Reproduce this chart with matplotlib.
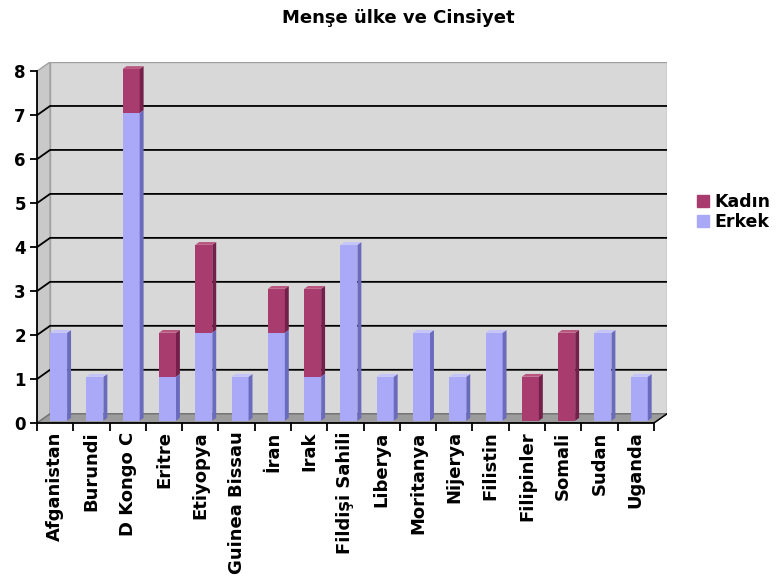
import matplotlib.pyplot as plt
from matplotlib.patches import Polygon, Patch
import numpy as np

countries = ['Afganistan', 'Burundi', 'D Kongo C', 'Eritre', 'Etiyopya', 'Guinea Bissau',
             'İran', 'Irak', 'Fildişi Sahili', 'Liberya', 'Moritanya', 'Nijerya',
             'Filistin', 'Filipinler', 'Somali', 'Sudan', 'Uganda']
erkek = [2, 1, 7, 1, 2, 1, 2, 1, 4, 1, 2, 1, 2, 0, 0, 2, 1]
kadin = [0, 0, 1, 1, 2, 0, 1, 2, 0, 0, 0, 0, 0, 1, 2, 0, 0]
y_max = 8

# pseudo-3D depth in data units
DX, DY = 0.36, 0.21
BAR_W = 0.47
BAR_OFF = 0.27
F0, F1 = 0.25, 0.55  # front/back depth fraction of the bars

erkek_c = ('#a9a9f7', '#6b6bbd', '#c4c4fa')
kadin_c = ('#a83c6f', '#73204a', '#b9567f')

fig = plt.figure(figsize=(7.76, 5.85), dpi=100)
ax = fig.add_axes([37 / 776, 162 / 585, 630 / 776, 361 / 585])
n = len(countries)
ax.set_xlim(0, n + DX)
ax.set_ylim(0, y_max + DY)

# walls and floor
ax.add_patch(Polygon([(DX, DY), (n + DX, DY), (n + DX, y_max + DY), (DX, y_max + DY)],
                     closed=True, fc='#d8d8d8', ec='#a0a0a0', lw=1, zorder=0))
ax.add_patch(Polygon([(0, 0), (DX, DY), (DX, y_max + DY), (0, y_max)],
                     closed=True, fc='#c9c9c9', ec='#a0a0a0', lw=1, zorder=0))
ax.add_patch(Polygon([(0, 0), (n, 0), (n + DX, DY), (DX, DY)],
                     closed=True, fc='#9c9c9c', ec='#707070', lw=1, zorder=1))
for v in range(1, y_max):
    ax.plot([0, DX, n + DX], [v, v + DY, v + DY], color='black', lw=1.3, zorder=1)
ax.plot([n, n + DX], [0, DY], color='black', lw=1, zorder=2)


def draw_stack(x0, bottom, height, colors):
    if height <= 0:
        return
    front, side, top = colors
    xl = x0 + F0 * DX
    yb = bottom + F0 * DY
    ax.bar(xl, height, width=BAR_W, bottom=yb, align='edge', color=front, zorder=3)
    ddx, ddy = (F1 - F0) * DX, (F1 - F0) * DY
    xr = xl + BAR_W
    ax.add_patch(Polygon([(xr, yb), (xr + ddx, yb + ddy), (xr + ddx, yb + height + ddy),
                          (xr, yb + height)], closed=True, fc=side, ec='none', zorder=3))
    ax.add_patch(Polygon([(xl, yb + height), (xr, yb + height), (xr + ddx, yb + height + ddy),
                          (xl + ddx, yb + height + ddy)], closed=True, fc=top, ec='none', zorder=3))


for i in range(n):
    x0 = i + BAR_OFF
    draw_stack(x0, 0, erkek[i], erkek_c)
    draw_stack(x0, erkek[i], kadin[i], kadin_c)

for s in ['top', 'right']:
    ax.spines[s].set_visible(False)
ax.spines['left'].set_bounds(0, y_max)
ax.spines['bottom'].set_bounds(0, n)
ax.spines['left'].set_linewidth(1.3)
ax.spines['bottom'].set_linewidth(1.3)
ax.spines['left'].set_zorder(4)
ax.spines['bottom'].set_zorder(4)

ax.set_yticks(range(0, y_max + 1))
ax.tick_params(axis='y', length=5, width=1.3, labelsize=12, pad=3)
for lab in ax.get_yticklabels():
    lab.set_fontweight('bold')

ax.set_xticks(np.arange(0, n + 1))
ax.set_xticklabels([])
ax.tick_params(axis='x', which='major', length=6, width=1.3)
ax.set_xticks(np.arange(n) + 0.5, minor=True)
ax.set_xticklabels(countries, minor=True, rotation=90, fontsize=13, fontweight='bold')
ax.tick_params(axis='x', which='minor', length=0, pad=6)

fig.text(398 / 776, 1 - 18 / 585, 'Menşe ülke ve Cinsiyet', ha='center', va='center',
         fontsize=13, fontweight='bold')

handles = [Patch(color=kadin_c[0], label='Kadın'), Patch(color=erkek_c[0], label='Erkek')]
leg = fig.legend(handles=handles, loc='upper left', bbox_to_anchor=(690 / 776, 1 - 186 / 585),
                 frameon=False, handlelength=0.7, handleheight=0.7, handletextpad=0.3,
                 labelspacing=0.1, prop={'weight': 'bold', 'size': 12.5}, borderaxespad=0)

fig.savefig('out.png', dpi=100)
